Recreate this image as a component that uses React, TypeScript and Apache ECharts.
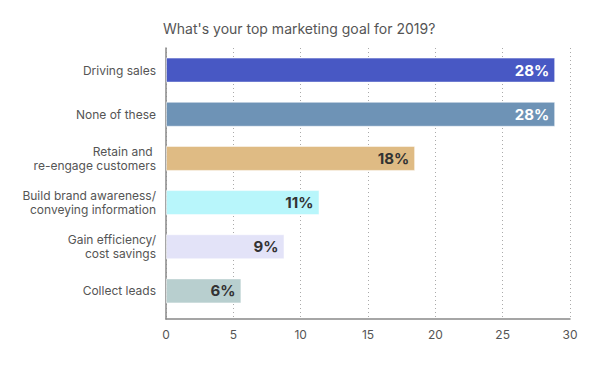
import React, { useEffect, useRef } from "react";
import * as echarts from "echarts";

const categories = [
  "Driving sales",
  "None of these",
  "Retain and \nre-engage customers",
  "Build brand awareness/\nconveying information",
  "Gain efficiency/\ncost savings",
  "Collect leads",
];
const values = [28.9, 28.9, 18.5, 11.4, 8.8, 5.6];
const valueLabels = ["28%", "28%", "18%", "11%", "9%", "6%"];
const barColors = ["#4858C4", "#6E93B6", "#DFBB84", "#B8F6FB", "#E3E3F8", "#B8CFCF"];
const labelColors = ["#FFFFFF", "#FFFFFF", "#333333", "#333333", "#333333", "#333333"];
const xTicks = [0, 5, 10, 15, 20, 25, 30];

const FONT = "Inter, 'Noto Sans', sans-serif";

export default function App() {
  const ref = useRef<HTMLDivElement>(null);
  useEffect(() => {
    if (!ref.current) return;
    const chart = echarts.init(ref.current, null, { renderer: "svg" });
    const xMin = xTicks[0];
    const xMax = xTicks[xTicks.length - 1];
    chart.setOption({
      animation: false,
      backgroundColor: "#ffffff",
      title: {
        text: "What's your top marketing goal for 2019?",
        left: 158,
        top: 16,
        textStyle: { fontFamily: FONT, fontSize: 14, fontWeight: "normal", color: "#555555" },
      },
      grid: [
        { left: 166, right: 30, top: 48, bottom: 46, containLabel: false },
        { left: 166, right: 30, top: 48, bottom: 52, containLabel: false },
      ],
      xAxis: [
        {
          gridIndex: 0,
          type: "value",
          min: xMin,
          max: xMax,
          interval: 5,
          axisLine: { show: true, lineStyle: { color: "#888888", width: 1.5 } },
          axisTick: { show: false },
          axisLabel: { fontFamily: FONT, fontSize: 12, color: "#555555", margin: 9 },
          splitLine: { show: true, lineStyle: { type: [1, 3], color: "#aaaaaa", width: 1 } },
        },
        {
          gridIndex: 1,
          type: "value",
          min: xMin,
          max: xMax,
          interval: 5,
          show: false,
        },
      ],
      yAxis: [
        {
          gridIndex: 0,
          type: "value",
          min: 0,
          max: 1,
          axisLine: { show: true, lineStyle: { color: "#888888", width: 1.5 } },
          axisTick: { show: false },
          axisLabel: { show: false },
          splitLine: { show: false },
        },
        {
          gridIndex: 1,
          type: "category",
          inverse: true,
          data: categories,
          axisLine: { show: false },
          axisTick: { show: false },
          axisLabel: { fontFamily: FONT, fontSize: 12, color: "#555555", margin: 10, lineHeight: 14 },
        },
      ],
      series: [
        {
          type: "bar",
          xAxisIndex: 1,
          yAxisIndex: 1,
          barWidth: 25,
          data: values.map((v, i) => ({
            value: v,
            itemStyle: { color: barColors[i], borderColor: "rgba(255,255,255,0.5)", borderWidth: 1 },
            label: {
              show: true,
              position: "insideRight",
              distance: 6,
              formatter: valueLabels[i],
              color: labelColors[i],
              fontFamily: FONT,
              fontSize: 15,
              fontWeight: "bold",
            },
          })),
        },
      ],
    });
    return () => chart.dispose();
  }, []);
  return <div ref={ref} style={{ width: 600, height: 365, position: "absolute", left: 0, top: 0 }} />;
}
